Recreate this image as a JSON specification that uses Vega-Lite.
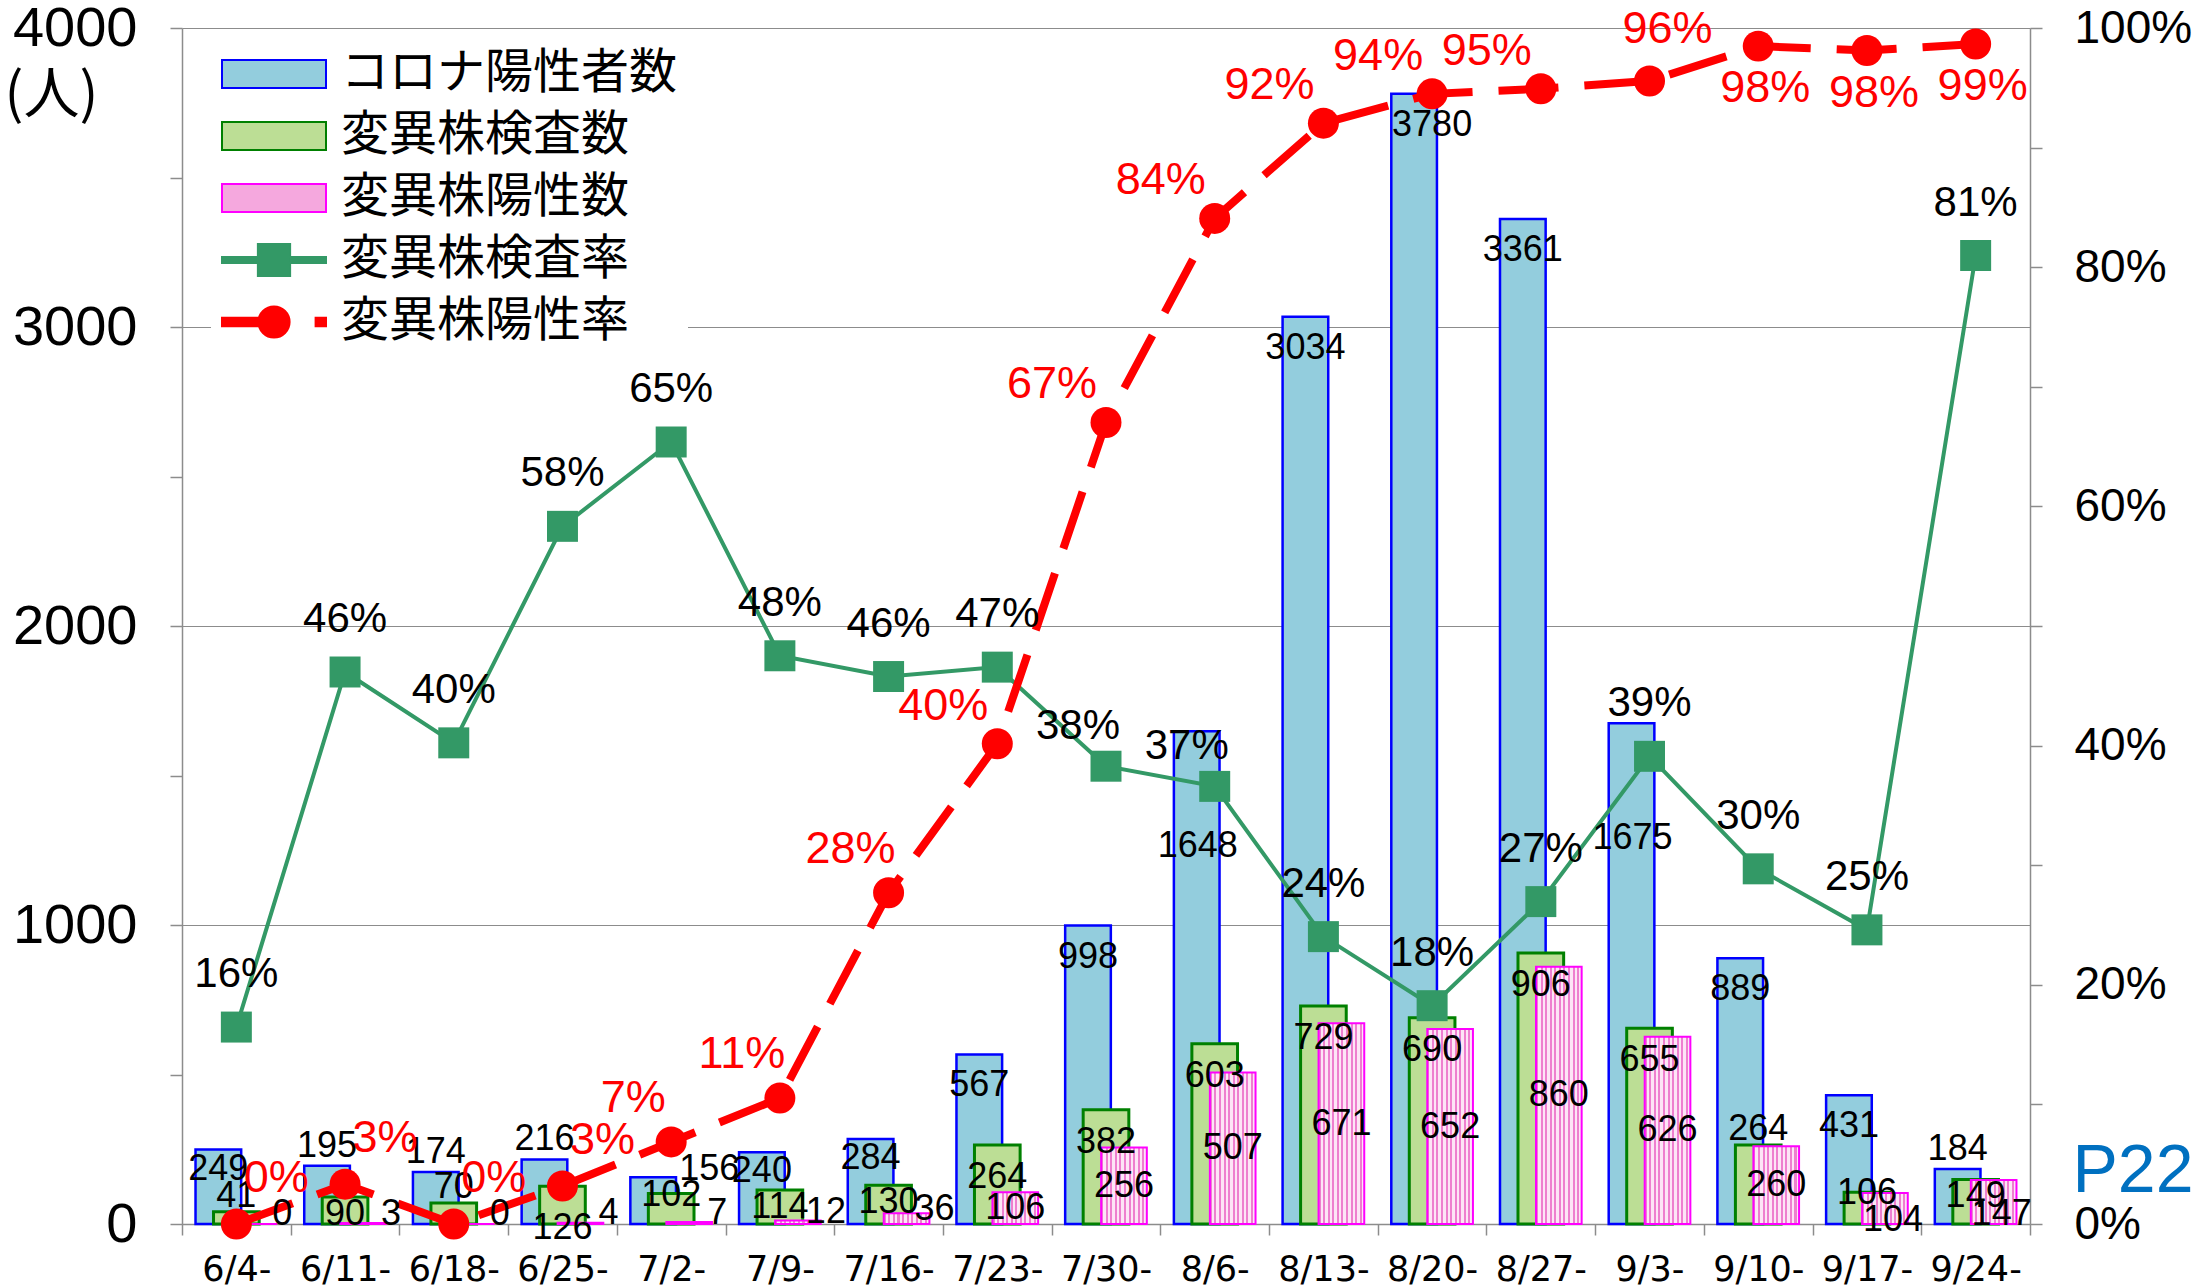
{
  "$schema": "https://vega.github.io/schema/vega-lite/v6.json",
  "width": 1848,
  "height": 1196,
  "autosize": {"type": "none"},
  "padding": {"left": 182, "top": 28, "right": 167, "bottom": 64},
  "background": "white",
  "config": {"view": {"stroke": null}},
  "data": {"values": [
    {"w": "6/4-", "pos": 249, "test": 41, "vpos": 0, "tr": 0.16466, "vr": 0},
    {"w": "6/11-", "pos": 195, "test": 90, "vpos": 3, "tr": 0.46154, "vr": 0.03333},
    {"w": "6/18-", "pos": 174, "test": 70, "vpos": 0, "tr": 0.4023, "vr": 0},
    {"w": "6/25-", "pos": 216, "test": 126, "vpos": 4, "tr": 0.58333, "vr": 0.03175},
    {"w": "7/2-", "pos": 156, "test": 102, "vpos": 7, "tr": 0.65385, "vr": 0.06863},
    {"w": "7/9-", "pos": 240, "test": 114, "vpos": 12, "tr": 0.4751, "vr": 0.10526},
    {"w": "7/16-", "pos": 284, "test": 130, "vpos": 36, "tr": 0.45775, "vr": 0.27692},
    {"w": "7/23-", "pos": 567, "test": 264, "vpos": 106, "tr": 0.46561, "vr": 0.40152},
    {"w": "7/30-", "pos": 998, "test": 382, "vpos": 256, "tr": 0.38277, "vr": 0.67016},
    {"w": "8/6-", "pos": 1648, "test": 603, "vpos": 507, "tr": 0.3659, "vr": 0.8408},
    {"w": "8/13-", "pos": 3034, "test": 729, "vpos": 671, "tr": 0.24028, "vr": 0.92044},
    {"w": "8/20-", "pos": 3780, "test": 690, "vpos": 652, "tr": 0.18254, "vr": 0.94493},
    {"w": "8/27-", "pos": 3361, "test": 906, "vpos": 860, "tr": 0.26956, "vr": 0.94923},
    {"w": "9/3-", "pos": 1675, "test": 655, "vpos": 626, "tr": 0.39104, "vr": 0.95573},
    {"w": "9/10-", "pos": 889, "test": 264, "vpos": 260, "tr": 0.29696, "vr": 0.98485},
    {"w": "9/17-", "pos": 431, "test": 106, "vpos": 104, "tr": 0.24594, "vr": 0.98113},
    {"w": "9/24-", "pos": 184, "test": 149, "vpos": 147, "tr": 0.80978, "vr": 0.98658}
  ]},
  "encoding": {
    "x": {
      "field": "w", "type": "nominal", "sort": null,
      "scale": {"domain": ["6/4-","6/11-","6/18-","6/25-","7/2-","7/9-","7/16-","7/23-","7/30-","8/6-","8/13-","8/20-","8/27-","9/3-","9/10-","9/17-","9/24-"], "paddingInner": 0, "paddingOuter": 0},
      "axis": {"title": null, "labelAngle": 0, "labelFont": "DejaVu Sans", "labelFontSize": 35, "labelColor": "black", "labelPadding": 17, "tickBand": "extent", "tickSize": 11, "tickColor": "#8C8C8C", "tickWidth": 1.5, "domainColor": "#8C8C8C", "domainWidth": 1.5, "grid": false}
    }
  },
  "layer": [
    {
      "mark": {"type": "bar", "width": {"band": 0.42}, "xOffset": -18, "fill": "#93CDDD", "stroke": "#0000FF", "strokeWidth": 2.5},
      "encoding": {"y": {"field": "pos", "type": "quantitative", "scale": {"domain": [0, 4000]},
        "axis": {"orient": "left", "title": "(人)", "titleAngle": 0, "titleAlign": "left", "titleBaseline": "middle", "titleX": -178, "titleY": 67, "titleFont": "Noto Sans CJK JP", "titleFontSize": 56, "titleFontWeight": "normal", "titleColor": "black",
          "values": [0, 500, 1000, 1500, 2000, 2500, 3000, 3500, 4000], "format": "d",
          "labelExpr": "datum.value % 1000 === 0 ? datum.label : ''",
          "labelFont": "Liberation Sans", "labelFontSize": 56, "labelColor": "black", "labelPadding": 33, "labelFlush": false, "labelOverlap": false,
          "tickSize": 12, "tickColor": "#8C8C8C", "tickWidth": 1.5, "domainColor": "#8C8C8C", "domainWidth": 1.5,
          "grid": true, "gridColor": "#8C8C8C", "gridWidth": 1.2,
          "gridOpacity": {"condition": {"test": "datum.value % 1000 === 0", "value": 1}, "value": 0}}}}
    },
    {
      "mark": {"type": "bar", "width": {"band": 0.42}, "xOffset": 0, "fill": "#BCDE95", "stroke": "#008000", "strokeWidth": 3},
      "encoding": {"y": {"field": "test", "type": "quantitative", "scale": {"domain": [0, 4000]}, "axis": null}}
    },
    {
      "mark": {"type": "bar", "width": {"band": 0.42}, "xOffset": 18, "stroke": "#FF00FF", "strokeWidth": 2,
        "fill": {"gradient": "linear", "x1": 0, "y1": 0, "x2": 1, "y2": 0, "stops": [
          {"offset": 0, "color": "#EE7FCF"}, {"offset": 0.045, "color": "#EE7FCF"}, {"offset": 0.045, "color": "#FDE5F6"}, {"offset": 0.1, "color": "#FDE5F6"},
          {"offset": 0.1, "color": "#EE7FCF"}, {"offset": 0.145, "color": "#EE7FCF"}, {"offset": 0.145, "color": "#FDE5F6"}, {"offset": 0.2, "color": "#FDE5F6"},
          {"offset": 0.2, "color": "#EE7FCF"}, {"offset": 0.245, "color": "#EE7FCF"}, {"offset": 0.245, "color": "#FDE5F6"}, {"offset": 0.3, "color": "#FDE5F6"},
          {"offset": 0.3, "color": "#EE7FCF"}, {"offset": 0.345, "color": "#EE7FCF"}, {"offset": 0.345, "color": "#FDE5F6"}, {"offset": 0.4, "color": "#FDE5F6"},
          {"offset": 0.4, "color": "#EE7FCF"}, {"offset": 0.445, "color": "#EE7FCF"}, {"offset": 0.445, "color": "#FDE5F6"}, {"offset": 0.5, "color": "#FDE5F6"},
          {"offset": 0.5, "color": "#EE7FCF"}, {"offset": 0.545, "color": "#EE7FCF"}, {"offset": 0.545, "color": "#FDE5F6"}, {"offset": 0.6, "color": "#FDE5F6"},
          {"offset": 0.6, "color": "#EE7FCF"}, {"offset": 0.645, "color": "#EE7FCF"}, {"offset": 0.645, "color": "#FDE5F6"}, {"offset": 0.7, "color": "#FDE5F6"},
          {"offset": 0.7, "color": "#EE7FCF"}, {"offset": 0.745, "color": "#EE7FCF"}, {"offset": 0.745, "color": "#FDE5F6"}, {"offset": 0.8, "color": "#FDE5F6"},
          {"offset": 0.8, "color": "#EE7FCF"}, {"offset": 0.845, "color": "#EE7FCF"}, {"offset": 0.845, "color": "#FDE5F6"}, {"offset": 0.9, "color": "#FDE5F6"},
          {"offset": 0.9, "color": "#EE7FCF"}, {"offset": 0.945, "color": "#EE7FCF"}, {"offset": 0.945, "color": "#FDE5F6"}, {"offset": 1, "color": "#FDE5F6"}
        ]}},
      "encoding": {"y": {"field": "vpos", "type": "quantitative", "scale": {"domain": [0, 4000]}, "axis": null}}
    },
    {
      "mark": {"type": "line", "color": "#339966", "strokeWidth": 4},
      "encoding": {"y": {"field": "tr", "type": "quantitative", "scale": {"domain": [0, 1]},
        "axis": {"orient": "right", "values": [0, 0.1, 0.2, 0.3, 0.4, 0.5, 0.6, 0.7, 0.8, 0.9, 1], "format": ".0%",
          "labelExpr": "round(datum.value * 10) % 2 === 0 ? datum.label : ''",
          "labelFont": "Liberation Sans", "labelFontSize": 46, "labelColor": "black", "labelPadding": 32, "labelFlush": false, "labelOverlap": false,
          "tickSize": 12, "tickColor": "#8C8C8C", "tickWidth": 1.5, "domainColor": "#8C8C8C", "domainWidth": 1.5, "grid": false,
          "title": "P22", "titleColor": "#0070C0", "titleFont": "Liberation Sans", "titleFontSize": 68, "titleFontWeight": "normal", "titleAngle": 0, "titleAlign": "left", "titleBaseline": "middle", "titleX": 42, "titleY": 1143}}}
    },
    {
      "mark": {"type": "square", "size": 960, "color": "#339966", "opacity": 1, "filled": true},
      "encoding": {"y": {"field": "tr", "type": "quantitative", "scale": {"domain": [0, 1]}, "axis": null}}
    },
    {
      "mark": {"type": "line", "color": "#FF0000", "strokeWidth": 8, "strokeDash": [60, 26]},
      "encoding": {"y": {"field": "vr", "type": "quantitative", "scale": {"domain": [0, 1]}, "axis": null}}
    },
    {
      "mark": {"type": "circle", "size": 960, "color": "#FF0000", "opacity": 1},
      "encoding": {"y": {"field": "vr", "type": "quantitative", "scale": {"domain": [0, 1]}, "axis": null}}
    },
    {
      "transform": [{"filter": {"field": "w", "oneOf": ["7/23-","7/30-","8/13-","8/27-","9/10-","9/17-"]}}],
      "mark": {"type": "text", "font": "Liberation Sans", "fontSize": 36, "color": "black", "baseline": "middle", "align": "center", "dx": -18, "dy": 31},
      "encoding": {"y": {"field": "pos", "type": "quantitative", "scale": {"domain": [0, 4000]}, "axis": null}, "text": {"field": "pos", "type": "quantitative", "format": "d"}}
    },
    {
      "transform": [{"filter": {"field": "w", "oneOf": ["8/20-"]}}],
      "mark": {"type": "text", "font": "Liberation Sans", "fontSize": 36, "color": "black", "baseline": "middle", "align": "center", "dx": 0, "dy": 31},
      "encoding": {"y": {"field": "pos", "type": "quantitative", "scale": {"domain": [0, 4000]}, "axis": null}, "text": {"field": "pos", "type": "quantitative", "format": "d"}}
    },
    {
      "transform": [{"filter": {"field": "w", "oneOf": ["6/4-","7/9-","7/16-"]}}],
      "mark": {"type": "text", "font": "Liberation Sans", "fontSize": 36, "color": "black", "baseline": "middle", "align": "center", "dx": -18, "dy": 19},
      "encoding": {"y": {"field": "pos", "type": "quantitative", "scale": {"domain": [0, 4000]}, "axis": null}, "text": {"field": "pos", "type": "quantitative", "format": "d"}}
    },
    {
      "transform": [{"filter": {"field": "w", "oneOf": ["6/11-","6/18-","6/25-","9/24-"]}}],
      "mark": {"type": "text", "font": "Liberation Sans", "fontSize": 36, "color": "black", "baseline": "middle", "align": "center", "dx": -18, "dy": -20},
      "encoding": {"y": {"field": "pos", "type": "quantitative", "scale": {"domain": [0, 4000]}, "axis": null}, "text": {"field": "pos", "type": "quantitative", "format": "d"}}
    },
    {
      "transform": [{"filter": {"field": "w", "oneOf": ["7/2-"]}}],
      "mark": {"type": "text", "font": "Liberation Sans", "fontSize": 36, "color": "black", "baseline": "middle", "align": "center", "dx": 38, "dy": -8},
      "encoding": {"y": {"field": "pos", "type": "quantitative", "scale": {"domain": [0, 4000]}, "axis": null}, "text": {"field": "pos", "type": "quantitative", "format": "d"}}
    },
    {
      "transform": [{"filter": {"field": "w", "oneOf": ["8/6-","9/3-"]}}],
      "mark": {"type": "text", "font": "Liberation Sans", "fontSize": 36, "color": "black", "baseline": "middle", "align": "center", "dx": -17, "dy": 115},
      "encoding": {"y": {"field": "pos", "type": "quantitative", "scale": {"domain": [0, 4000]}, "axis": null}, "text": {"field": "pos", "type": "quantitative", "format": "d"}}
    },
    {
      "transform": [{"filter": {"field": "w", "oneOf": ["7/23-","7/30-","8/6-","8/13-","8/20-","8/27-","9/3-"]}}],
      "mark": {"type": "text", "font": "Liberation Sans", "fontSize": 36, "color": "black", "baseline": "middle", "align": "center", "dx": 0, "dy": 32},
      "encoding": {"y": {"field": "test", "type": "quantitative", "scale": {"domain": [0, 4000]}, "axis": null}, "text": {"field": "test", "type": "quantitative", "format": "d"}}
    },
    {
      "transform": [{"filter": {"field": "w", "oneOf": ["6/25-"]}}],
      "mark": {"type": "text", "font": "Liberation Sans", "fontSize": 36, "color": "black", "baseline": "middle", "align": "center", "dx": 0, "dy": 42},
      "encoding": {"y": {"field": "test", "type": "quantitative", "scale": {"domain": [0, 4000]}, "axis": null}, "text": {"field": "test", "type": "quantitative", "format": "d"}}
    },
    {
      "transform": [{"filter": {"field": "w", "oneOf": ["6/11-","7/9-","7/16-","9/24-"]}}],
      "mark": {"type": "text", "font": "Liberation Sans", "fontSize": 36, "color": "black", "baseline": "middle", "align": "center", "dx": 0, "dy": 17},
      "encoding": {"y": {"field": "test", "type": "quantitative", "scale": {"domain": [0, 4000]}, "axis": null}, "text": {"field": "test", "type": "quantitative", "format": "d"}}
    },
    {
      "transform": [{"filter": {"field": "w", "oneOf": ["7/2-","9/17-"]}}],
      "mark": {"type": "text", "font": "Liberation Sans", "fontSize": 36, "color": "black", "baseline": "middle", "align": "center", "dx": 0, "dy": 1},
      "encoding": {"y": {"field": "test", "type": "quantitative", "scale": {"domain": [0, 4000]}, "axis": null}, "text": {"field": "test", "type": "quantitative", "format": "d"}}
    },
    {
      "transform": [{"filter": {"field": "w", "oneOf": ["6/4-","6/18-","9/10-"]}}],
      "mark": {"type": "text", "font": "Liberation Sans", "fontSize": 36, "color": "black", "baseline": "middle", "align": "center", "dx": 0, "dy": -16},
      "encoding": {"y": {"field": "test", "type": "quantitative", "scale": {"domain": [0, 4000]}, "axis": null}, "text": {"field": "test", "type": "quantitative", "format": "d"}}
    },
    {
      "transform": [{"filter": {"field": "w", "oneOf": ["7/23-","7/30-","8/6-","8/13-","8/20-","8/27-","9/3-","9/10-"]}}],
      "mark": {"type": "text", "font": "Liberation Sans", "fontSize": 36, "color": "black", "baseline": "middle", "align": "center", "dx": 18, "dy": 0},
      "encoding": {"y": {"field": "vpos", "type": "quantitative", "scale": {"domain": [0, 8000]}, "axis": null}, "text": {"field": "vpos", "type": "quantitative", "format": "d"}}
    },
    {
      "transform": [{"filter": {"field": "w", "oneOf": ["6/4-","6/11-","6/18-","6/25-","7/2-","7/9-","7/16-"]}}],
      "mark": {"type": "text", "font": "Liberation Sans", "fontSize": 36, "color": "black", "baseline": "middle", "align": "center", "dx": 46, "dy": -10},
      "encoding": {"y": {"field": "vpos", "type": "quantitative", "scale": {"domain": [0, 8000]}, "axis": null}, "text": {"field": "vpos", "type": "quantitative", "format": "d"}}
    },
    {
      "transform": [{"filter": {"field": "w", "oneOf": ["9/17-","9/24-"]}}],
      "mark": {"type": "text", "font": "Liberation Sans", "fontSize": 36, "color": "black", "baseline": "middle", "align": "center", "dx": 26, "dy": 12},
      "encoding": {"y": {"field": "vpos", "type": "quantitative", "scale": {"domain": [0, 8000]}, "axis": null}, "text": {"field": "vpos", "type": "quantitative", "format": "d"}}
    },
    {
      "transform": [{"filter": {"field": "w", "oneOf": ["6/4-","6/11-","6/18-","6/25-","7/2-","7/9-","7/16-","7/23-","8/13-","8/20-","8/27-","9/3-","9/10-","9/17-","9/24-"]}}],
      "mark": {"type": "text", "font": "Liberation Sans", "fontSize": 42, "color": "black", "baseline": "middle", "align": "center", "dx": 0, "dy": -53},
      "encoding": {"y": {"field": "tr", "type": "quantitative", "scale": {"domain": [0, 1]}, "axis": null}, "text": {"field": "tr", "type": "quantitative", "format": ".0%"}}
    },
    {
      "transform": [{"filter": {"field": "w", "oneOf": ["7/30-","8/6-"]}}],
      "mark": {"type": "text", "font": "Liberation Sans", "fontSize": 42, "color": "black", "baseline": "middle", "align": "center", "dx": -28, "dy": -40},
      "encoding": {"y": {"field": "tr", "type": "quantitative", "scale": {"domain": [0, 1]}, "axis": null}, "text": {"field": "tr", "type": "quantitative", "format": ".0%"}}
    },
    {
      "transform": [{"filter": {"field": "w", "oneOf": ["6/4-","6/11-","6/18-","6/25-"]}}],
      "mark": {"type": "text", "font": "Liberation Sans", "fontSize": 45, "color": "#FF0000", "baseline": "middle", "align": "center", "dx": 40, "dy": -46},
      "encoding": {"y": {"field": "vr", "type": "quantitative", "scale": {"domain": [0, 1]}, "axis": null}, "text": {"field": "vr", "type": "quantitative", "format": ".0%"}}
    },
    {
      "transform": [{"filter": {"field": "w", "oneOf": ["7/2-","7/9-","7/16-"]}}],
      "mark": {"type": "text", "font": "Liberation Sans", "fontSize": 45, "color": "#FF0000", "baseline": "middle", "align": "center", "dx": -38, "dy": -44},
      "encoding": {"y": {"field": "vr", "type": "quantitative", "scale": {"domain": [0, 1]}, "axis": null}, "text": {"field": "vr", "type": "quantitative", "format": ".0%"}}
    },
    {
      "transform": [{"filter": {"field": "w", "oneOf": ["7/23-","7/30-","8/6-","8/13-","8/20-","8/27-"]}}],
      "mark": {"type": "text", "font": "Liberation Sans", "fontSize": 45, "color": "#FF0000", "baseline": "middle", "align": "center", "dx": -54, "dy": -38},
      "encoding": {"y": {"field": "vr", "type": "quantitative", "scale": {"domain": [0, 1]}, "axis": null}, "text": {"field": "vr", "type": "quantitative", "format": ".0%"}}
    },
    {
      "transform": [{"filter": {"field": "w", "oneOf": ["9/3-"]}}],
      "mark": {"type": "text", "font": "Liberation Sans", "fontSize": 45, "color": "#FF0000", "baseline": "middle", "align": "center", "dx": 18, "dy": -52},
      "encoding": {"y": {"field": "vr", "type": "quantitative", "scale": {"domain": [0, 1]}, "axis": null}, "text": {"field": "vr", "type": "quantitative", "format": ".0%"}}
    },
    {
      "transform": [{"filter": {"field": "w", "oneOf": ["9/10-","9/17-","9/24-"]}}],
      "mark": {"type": "text", "font": "Liberation Sans", "fontSize": 45, "color": "#FF0000", "baseline": "middle", "align": "center", "dx": 7, "dy": 42},
      "encoding": {"y": {"field": "vr", "type": "quantitative", "scale": {"domain": [0, 1]}, "axis": null}, "text": {"field": "vr", "type": "quantitative", "format": ".0%"}}
    },
    {
      "data": {"values": [{"s": "コロナ陽性者数"}, {"s": "変異株検査数"}, {"s": "変異株陽性数"}, {"s": "変異株検査率"}, {"s": "変異株陽性率"}]},
      "mark": {"type": "point", "filled": true, "opacity": 0},
      "encoding": {
        "fill": {"field": "s", "type": "nominal",
          "scale": {"domain": ["コロナ陽性者数", "変異株検査数", "変異株陽性数", "変異株検査率", "変異株陽性率"], "range": ["#93CDDD", "#BCDE95", "#F5A8DE", "#339966", "#FF0000"]},
          "legend": {"title": null, "orient": "none", "legendX": 29, "legendY": 10, "fillColor": "white", "padding": 10, "rowPadding": 10, "clipHeight": 52, "symbolSize": 10816, "symbolStrokeWidth": 2, "symbolOpacity": 1, "symbolFillColor": "#FFFFFF", "symbolStrokeColor": "#000000", "labelFont": "Noto Sans CJK JP", "labelFontSize": 48, "labelColor": "black", "labelOffset": 14, "labelLimit": 1000, "direction": "vertical"}},
        "stroke": {"field": "s", "type": "nominal",
          "scale": {"domain": ["コロナ陽性者数", "変異株検査数", "変異株陽性数", "変異株検査率", "変異株陽性率"], "range": ["#0000FF", "#008000", "#FF00FF", "#339966", "#FF0000"]},
          "legend": {"title": null, "orient": "none", "legendX": 29, "legendY": 10, "fillColor": "white", "padding": 10, "rowPadding": 10, "clipHeight": 52, "symbolSize": 10816, "symbolStrokeWidth": 2, "symbolOpacity": 1, "symbolFillColor": "#FFFFFF", "symbolStrokeColor": "#000000", "labelFont": "Noto Sans CJK JP", "labelFontSize": 48, "labelColor": "black", "labelOffset": 14, "labelLimit": 1000, "direction": "vertical"}},
        "shape": {"field": "s", "type": "nominal",
          "scale": {"domain": ["コロナ陽性者数", "変異株検査数", "変異株陽性数", "変異株検査率", "変異株陽性率"],
            "range": ["M-1,-0.27H1V0.27H-1Z", "M-1,-0.27H1V0.27H-1Z", "M-1,-0.27H1V0.27H-1Z",
              "M-1,-0.06H1V0.06H-1ZM-0.31,-0.31H0.31V0.31H-0.31Z",
              "M-1,-0.08H-0.2V0.08H-1ZM0.3,0A0.3,0.3 0 1,1 -0.3,0A0.3,0.3 0 1,1 0.3,0ZM0.8,-0.08H1V0.08H0.8Z"]},
          "legend": {"title": null, "orient": "none", "legendX": 29, "legendY": 10, "fillColor": "white", "padding": 10, "rowPadding": 10, "clipHeight": 52, "symbolSize": 10816, "symbolStrokeWidth": 2, "symbolOpacity": 1, "symbolFillColor": "#FFFFFF", "symbolStrokeColor": "#000000", "labelFont": "Noto Sans CJK JP", "labelFontSize": 48, "labelColor": "black", "labelOffset": 14, "labelLimit": 1000, "direction": "vertical"}}
      }
    }
  ],
  "resolve": {"scale": {"y": "independent"}}
}
